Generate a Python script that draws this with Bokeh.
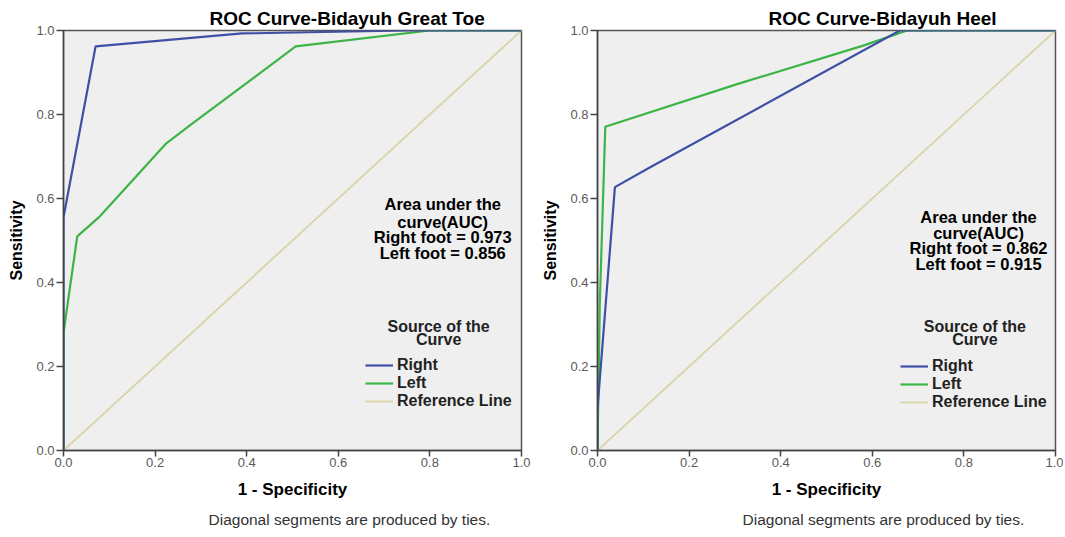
from bokeh.plotting import figure
from bokeh.models import Range1d, Legend, LegendItem, Label, Title, PrintfTickFormatter, FixedTicker
from bokeh.layouts import row
from bokeh.embed import file_html
from bokeh.resources import INLINE

# ---- data ----
tick_values = [0.0, 0.2, 0.4, 0.6, 0.8, 1.0]
reference_line = [0.0, 1.0]

toe_right_fpr = [0.0, 0.0, 0.07, 0.39, 0.75, 1.0]
toe_right_tpr = [0.0, 0.555, 0.962, 0.993, 1.0, 1.0]
toe_left_fpr = [0.0, 0.0, 0.03, 0.077, 0.223, 0.281, 0.507, 0.80, 1.0]
toe_left_tpr = [0.0, 0.28, 0.51, 0.555, 0.73, 0.778, 0.962, 1.0, 1.0]

heel_right_fpr = [0.0, 0.0, 0.038, 0.116, 0.66, 1.0]
heel_right_tpr = [0.0, 0.10, 0.627, 0.675, 1.0, 1.0]
heel_left_fpr = [0.0, 0.005, 0.017, 0.31, 0.58, 0.676, 1.0]
heel_left_tpr = [0.0, 0.35, 0.771, 0.874, 0.964, 1.0, 1.0]

titles = ["ROC Curve-Bidayuh Great Toe", "ROC Curve-Bidayuh Heel"]
auc_right = ["0.973", "0.862"]
auc_left = ["0.856", "0.915"]
series_names = ["Right", "Left", "Reference Line"]
footnote = "Diagonal segments are produced by ties."

BLUE = "#3f4fa6"
GREEN = "#3cb446"
REF = "#d9d3a6"
FONT = "Liberation Sans"

leg_title_y = [0.295, 0.264]


def make_panel(title, title_offset, rfpr, rtpr, lfpr, ltpr, a_r, a_l, left_border, right_border,
               width, auc_x, auc_y, leg_title_x, leg_x, leg_y):
    p = figure(width=width, height=535, x_range=Range1d(0, 1), y_range=Range1d(0, 1),
               output_backend="svg", toolbar_location=None,
               min_border_left=left_border, min_border_right=right_border,
               min_border_top=30, min_border_bottom=85)
    p.background_fill_color = "#efefef"
    p.border_fill_color = "white"
    p.outline_line_color = "#555555"
    p.outline_line_width = 1.5
    p.grid.visible = False

    p.title.text = title
    p.title.align = "left"
    p.title.offset = title_offset
    p.title.text_font = FONT
    p.title.text_font_size = "19px"
    p.title.text_font_style = "bold"
    p.title.text_color = "black"
    p.title.standoff = 3

    for ax in (p.xaxis[0], p.yaxis[0]):
        ax.ticker = FixedTicker(ticks=tick_values)
        ax.formatter = PrintfTickFormatter(format="%.1f")
        ax.minor_tick_line_color = None
        ax.axis_line_color = "#444444"
        ax.axis_line_width = 1.5
        ax.major_tick_line_color = "#444444"
        ax.major_tick_line_width = 1.5
        ax.major_label_text_font = FONT
        ax.major_label_text_font_size = "13px"
        ax.major_label_text_color = "#5a5a5a"
        ax.axis_label_text_font = FONT
        ax.axis_label_text_font_style = "bold"
        ax.axis_label_text_color = "black"
    p.xaxis.axis_label = "1 - Specificity"
    p.xaxis.axis_label_text_font_size = "17px"
    p.xaxis.major_tick_out = 6
    p.xaxis.major_tick_in = 0
    p.xaxis.major_label_standoff = 1
    p.xaxis.axis_label_standoff = 10
    p.yaxis.axis_label = "Sensitivity"
    p.yaxis.axis_label_text_font_size = "16px"
    p.yaxis.major_tick_out = 7
    p.yaxis.major_tick_in = 0
    p.yaxis.major_label_standoff = 2
    p.yaxis.axis_label_standoff = 8

    ref = p.line(reference_line, reference_line, line_color=REF, line_width=1.8)
    gl = p.line(lfpr, ltpr, line_color=GREEN, line_width=2.2)
    bl = p.line(rfpr, rtpr, line_color=BLUE, line_width=2.2)

    legend = Legend(items=[LegendItem(label=series_names[0], renderers=[bl]),
                           LegendItem(label=series_names[1], renderers=[gl]),
                           LegendItem(label=series_names[2], renderers=[ref])],
                    location=(leg_x, leg_y), padding=0, margin=0, spacing=0,
                    glyph_width=28, glyph_height=18, label_height=18, label_standoff=4,
                    label_text_font=FONT, label_text_font_size="16px",
                    label_text_font_style="bold", label_text_color="#222222",
                    border_line_color=None, background_fill_alpha=0)
    p.add_layout(legend, "center")

    auc_lines = ["Area under the", "curve(AUC)", "Right foot = " + a_r, "Left foot = " + a_l]
    for txt, yy in zip(auc_lines, auc_y):
        p.add_layout(Label(x=auc_x, y=yy, text=txt, text_align="center", text_baseline="middle",
                           text_font=FONT, text_font_size="16.5px", text_font_style="bold",
                           text_color="black"))
    for txt, yy in zip(["Source of the", "Curve"], leg_title_y):
        p.add_layout(Label(x=leg_title_x, y=yy, text=txt, text_align="center",
                           text_baseline="middle", text_font=FONT, text_font_size="16px",
                           text_font_style="bold", text_color="#222222"))

    p.add_layout(Title(text=footnote, align="left", offset=145, text_font=FONT,
                       text_font_size="15.5px", text_font_style="normal", text_color="#333333",
                       standoff=15), "below")
    return p


p1 = make_panel(titles[0], 146, toe_right_fpr, toe_right_tpr, toe_left_fpr, toe_left_tpr,
                auc_right[0], auc_left[0], 63, 11, 532,
                0.828, [0.586, 0.545, 0.508, 0.471], 0.819, 302, 40)
p2 = make_panel(titles[1], 171, heel_right_fpr, heel_right_tpr, heel_left_fpr, heel_left_tpr,
                auc_right[1], auc_left[1], 65, 8, 531,
                0.832, [0.557, 0.519, 0.481, 0.443], 0.824, 303, 39)

layout = row(p1, p2)
open("out.html", "w").write(file_html(layout, INLINE))
